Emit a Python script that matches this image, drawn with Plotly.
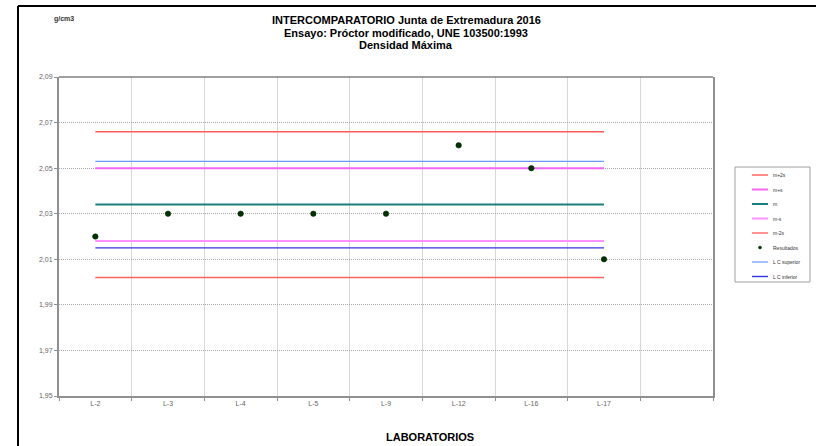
import plotly.graph_objects as go

# Laboratories and their measured maximum density (g/cm3)
laboratorios = ["L-2", "L-3", "L-4", "L-5", "L-9", "L-12", "L-16", "L-17"]
resultados = [2.020, 2.030, 2.030, 2.030, 2.030, 2.060, 2.050, 2.010]

# Reference statistics drawn as horizontal lines across the laboratories
lineas_nombres = ["m+2s", "L C superior", "m+s", "m", "m-s", "L C inferior", "m-2s"]
lineas_valores = [2.066, 2.053, 2.050, 2.034, 2.018, 2.015, 2.002]
lineas_colores = ["#FF5A5A", "#6A96FF", "#F266F2", "#1B7F7F", "#FF90FF", "#3535E0", "#FF6262"]
lineas_grosor = [1.4, 1.2, 2, 2, 2, 1.4, 1.4]

# Legend order
leyenda_orden = ["m+2s", "m+s", "m", "m-s", "m-2s", "Resultados", "L C superior", "L C inferior"]

y_ticks = [1.95, 1.97, 1.99, 2.01, 2.03, 2.05, 2.07, 2.09]

W, H = 816, 446
L, R, T, B = 59, 103, 77, 50
PW, PH = W - L - R, H - T - B


def px(x):
    return (x - L) / PW


def py(y):
    return (H - B - y) / PH


categorias = laboratorios + [" "]

fig = go.Figure()

for nombre, valor, color, grosor in zip(lineas_nombres, lineas_valores, lineas_colores, lineas_grosor):
    fig.add_trace(go.Scatter(
        x=laboratorios, y=[valor] * len(laboratorios), mode="lines",
        name=nombre, line=dict(color=color, width=grosor), showlegend=False,
    ))

fig.add_trace(go.Scatter(
    x=laboratorios, y=resultados, mode="markers", name="Resultados",
    marker=dict(color="#003300", size=5.5, line=dict(color="#001a00", width=0.5)),
    showlegend=False,
))

# Hand-drawn legend box with compact rows
shapes = []
annotations = []
lx0, lx1, ly0, ly1 = 735, 810, 167, 282
shapes.append(dict(type="rect", xref="paper", yref="paper",
                   x0=px(lx0), x1=px(lx1), y0=py(ly1), y1=py(ly0),
                   line=dict(color="#A0A0A0", width=1), fillcolor="white"))
estilo = {n: (c, g) for n, c, g in zip(lineas_nombres, lineas_colores, lineas_grosor)}
for i, nombre in enumerate(leyenda_orden):
    yy = 175 + i * 14.5
    if nombre == "Resultados":
        shapes.append(dict(type="circle", xref="paper", yref="paper",
                           x0=px(758.5), x1=px(761.5), y0=py(yy + 1.5), y1=py(yy - 1.5),
                           fillcolor="#003300", line=dict(color="#003300", width=0.5)))
    else:
        c, g = estilo[nombre]
        shapes.append(dict(type="line", xref="paper", yref="paper",
                           x0=px(752), x1=px(768), y0=py(yy), y1=py(yy),
                           line=dict(color=c, width=g)))
    annotations.append(dict(text=nombre, xref="paper", yref="paper",
                            x=px(771), y=py(yy), xanchor="left", yanchor="middle",
                            showarrow=False, font=dict(size=5, color="#333333")))

# Outer frame (left and top edges)
shapes.append(dict(type="line", xref="paper", yref="paper",
                   x0=px(18), x1=px(18), y0=py(6), y1=py(460),
                   line=dict(color="black", width=2)))
shapes.append(dict(type="line", xref="paper", yref="paper",
                   x0=px(18), x1=px(830), y0=py(6), y1=py(6),
                   line=dict(color="black", width=2)))
# Dark top edge of the plot area
shapes.append(dict(type="line", xref="paper", yref="paper",
                   x0=0, x1=1, y0=1, y1=1, line=dict(color="#404040", width=1)))

# Titles
titulos = ["INTERCOMPARATORIO Junta de Extremadura 2016",
           "Ensayo: Próctor modificado, UNE 103500:1993",
           "Densidad Máxima"]
for i, t in enumerate(titulos):
    annotations.append(dict(text="<b>" + t + "</b>", xref="paper", yref="paper",
                            x=px(406), y=py(20 + i * 12.7), xanchor="center", yanchor="middle",
                            showarrow=False, font=dict(size=11, color="#000000")))
annotations.append(dict(text="<b>g/cm3</b>", xref="paper", yref="paper",
                        x=px(64), y=py(19), xanchor="center", yanchor="middle",
                        showarrow=False, font=dict(size=7, color="#333333")))
annotations.append(dict(text="<b>LABORATORIOS</b>", xref="paper", yref="paper",
                        x=px(430), y=py(437), xanchor="center", yanchor="middle",
                        showarrow=False, font=dict(size=11, color="#000000")))

fig.update_layout(
    width=W, height=H,
    margin=dict(l=L, r=R, t=T, b=B),
    paper_bgcolor="white", plot_bgcolor="white",
    separators=",.",
    font=dict(family="Liberation Sans, Arial, sans-serif"),
    shapes=shapes, annotations=annotations,
    showlegend=False,
)
fig.update_xaxes(
    type="category", categoryorder="array", categoryarray=categorias,
    range=[-0.5, len(categorias) - 0.5],
    tickson="boundaries", ticks="outside", ticklen=3, tickcolor="#909090",
    showgrid=True, gridcolor="#D8D8D8", gridwidth=1,
    showline=True, linecolor="#909090", linewidth=2,
    tickfont=dict(size=7, color="#666666"),
)
fig.update_yaxes(
    range=[1.95, 2.09], tickvals=y_ticks, tickformat=".2f",
    ticks="outside", ticklen=3, tickcolor="#909090",
    showgrid=True, gridcolor="#A8A8A8", griddash="1px,1px", gridwidth=1,
    showline=True, linecolor="#909090", linewidth=2, mirror=True,
    zeroline=False,
    tickfont=dict(size=7, color="#666666"),
)

fig.write_html("out.html")
